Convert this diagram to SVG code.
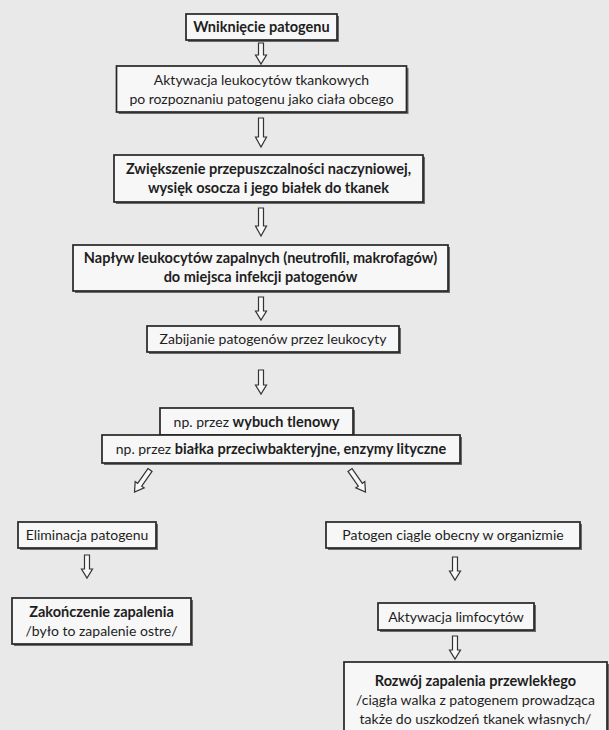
<svg xmlns="http://www.w3.org/2000/svg" width="609" height="730" viewBox="0 0 609 730">
<style>
.bx{fill:#f7f7f7;stroke:#262626;stroke-width:1.7}
.sh{fill:#6a6a6a}
.t{font-family:Lato,"Open Sans","Liberation Sans",sans-serif;font-size:14px;fill:#1e1e1e;text-anchor:middle}
.b{font-weight:bold;font-size:14.5px}
.ar{fill:#f7f7f7;stroke:#333;stroke-width:1.2;stroke-linejoin:miter}
</style>
<rect width="609" height="730" fill="#e9e9e9"/>
<g id="connectors">
<path class="ar" d="M258.5,43 H263.5 V55 H266.5 L261,64 L255.5,55 H258.5 Z"/>
<path class="ar" d="M258.5,118 H263.5 V137 H266.5 L261,147 L255.5,137 H258.5 Z"/>
<path class="ar" d="M258.5,208 H263.5 V226 H266.5 L261,236 L255.5,226 H258.5 Z"/>
<path class="ar" d="M258.5,297 H263.5 V311 H266.5 L261,320 L255.5,311 H258.5 Z"/>
<path class="ar" d="M258.5,370 H263.5 V385 H266.5 L261,394 L255.5,385 H258.5 Z"/>
<path class="ar" transform="translate(150,470) rotate(35)" d="M-2.5,0 H2.5 V18 H5.5 L0,27 L-5.5,18 H-2.5 Z"/>
<path class="ar" transform="translate(350,470) rotate(-35)" d="M-2.5,0 H2.5 V18 H5.5 L0,27 L-5.5,18 H-2.5 Z"/>
<path class="ar" d="M84.5,555 H89.5 V569 H92.5 L87,578 L81.5,569 H84.5 Z"/>
<path class="ar" d="M452.5,557 H457.5 V571 H460.5 L455,580 L449.5,571 H452.5 Z"/>
<path class="ar" d="M452.5,636 H457.5 V650 H460.5 L455,659 L449.5,650 H452.5 Z"/>
</g>
<g id="n1"><rect class="sh" x="188" y="16" width="151" height="26"/><rect class="bx" x="186" y="14" width="151" height="26"/><text class="t b" x="261.5" y="32">Wniknięcie patogenu</text></g>
<g id="n2"><rect class="sh" x="118.5" y="68" width="290" height="46"/><rect class="bx" x="116.5" y="66" width="290" height="46"/><text class="t" x="261.5" y="85">Aktywacja leukocytów  tkankowych</text><text class="t" x="261.5" y="104">po rozpoznaniu  patogenu jako ciała obcego</text></g>
<g id="n3"><rect class="sh" x="116" y="157" width="309" height="47"/><rect class="bx" x="114" y="155" width="309" height="47"/><text class="t b" x="268.5" y="174">Zwiększenie przepuszczalności naczyniowej,</text><text class="t b" x="268.5" y="193">wysięk osocza i jego białek do tkanek</text></g>
<g id="n4"><rect class="sh" x="75" y="247" width="375" height="46"/><rect class="bx" x="73" y="245" width="375" height="46"/><text class="t b" x="260.5" y="263">Napływ leukocytów zapalnych (neutrofili, makrofagów)</text><text class="t b" x="260.5" y="282">do miejsca infekcji patogenów</text></g>
<g id="n5"><rect class="sh" x="149" y="328" width="252" height="26"/><rect class="bx" x="147" y="326" width="252" height="26"/><text class="t" x="273" y="344">Zabijanie patogenów przez leukocyty</text></g>
<g id="n6a"><rect class="sh" x="162" y="410" width="193" height="27"/><rect class="bx" x="160" y="408" width="193" height="27"/><text class="t" x="256.5" y="427">np. przez <tspan class="b">wybuch tlenowy</tspan></text></g>
<g id="n6b"><rect class="sh" x="104" y="437" width="358" height="28"/><rect class="bx" x="102" y="435" width="358" height="28"/><text class="t" x="281" y="454">np. przez <tspan class="b">białka przeciwbakteryjne, enzymy lityczne</tspan></text></g>
<g id="n7l"><rect class="sh" x="20" y="524" width="138" height="26"/><rect class="bx" x="18" y="522" width="138" height="26"/><text class="t" x="87" y="540">Eliminacja patogenu</text></g>
<g id="n7r"><rect class="sh" x="328" y="524" width="254" height="26"/><rect class="bx" x="326" y="522" width="254" height="26"/><text class="t" x="453" y="540">Patogen ciągle obecny w organizmie</text></g>
<g id="n8l"><rect class="sh" x="14" y="600" width="179" height="46"/><rect class="bx" x="12" y="598" width="179" height="46"/><text class="t b" x="101.5" y="617">Zakończenie zapalenia</text><text class="t" x="101.5" y="636">/było to zapalenie ostre/</text></g>
<g id="n8r"><rect class="sh" x="380" y="605" width="156" height="27"/><rect class="bx" x="378" y="603" width="156" height="27"/><text class="t" x="456" y="622">Aktywacja limfocytów</text></g>
<g id="n9r"><rect class="sh" x="346" y="664" width="265" height="80"/><rect class="bx" x="344" y="662" width="263" height="80"/><text class="t b" x="475.5" y="686">Rozwój zapalenia przewlekłego</text><text class="t" x="475.5" y="705">/ciągła walka z patogenem prowadząca</text><text class="t" x="475.5" y="724">także do uszkodzeń  tkanek własnych/</text></g>
</svg>
